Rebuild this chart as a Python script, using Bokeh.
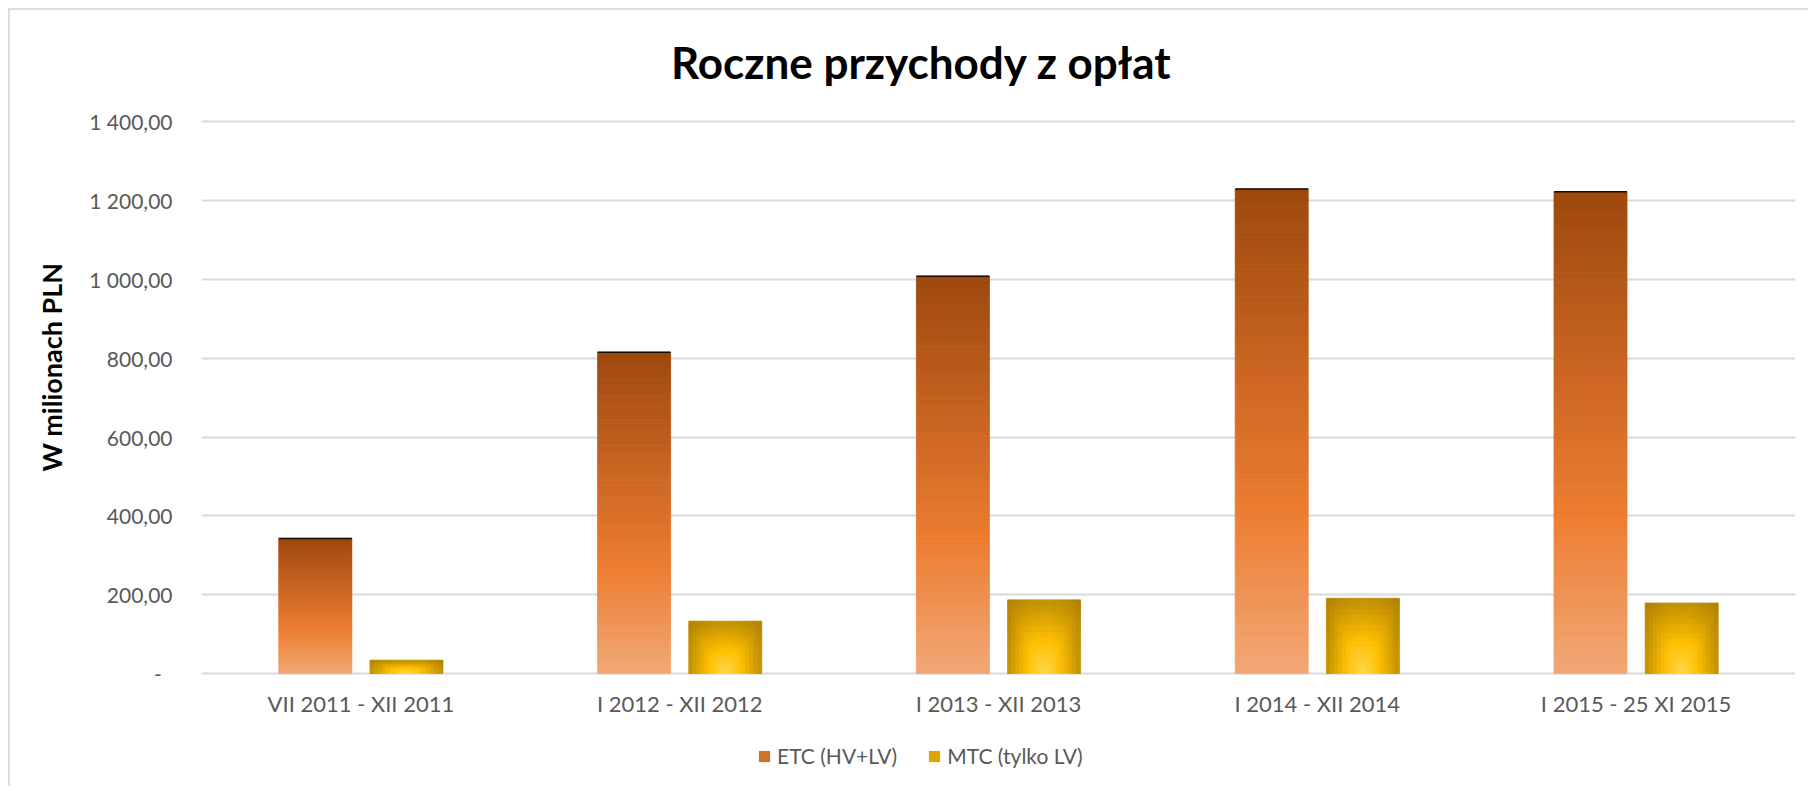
import math
from bokeh.plotting import figure
from bokeh.models import Range1d, FixedTicker, Legend, LegendItem, ColumnDataSource, Title
from bokeh.core.properties import value
from bokeh.embed import file_html
from bokeh.resources import INLINE

# ---------------- data ----------------
categories = ["VII 2011 - XII 2011", "I 2012 - XII 2012", "I 2013 - XII 2013",
              "I 2014 - XII 2014", "I 2015 - 25 XI 2015"]
etc_values = [343, 815, 1008, 1229, 1222]
mtc_values = [34, 133, 187, 191, 179]
series_names = ["ETC (HV+LV)", "MTC (tylko LV)"]
y_tick_values = [0, 200, 400, 600, 800, 1000, 1200, 1400]
y_tick_labels = ["-\u00a0\u00a0", "200,00", "400,00", "600,00", "800,00",
                 "1 000,00", "1 200,00", "1 400,00"]
title_text = "Roczne przychody z opłat"
y_axis_title = "W milionach PLN"

# ---------------- style / layout ----------------
FONT = "Lato"
GRID = "#D9D9D9"
TXT = "#595959"
BAR_W = 0.229
OFFSET = 0.143
Y_TOP = 1682.1      # room above the 1 400 gridline for the title
Y_BOTTOM = -291.5   # room below zero for category labels and legend
TITLE_X = 1.758     # title centre (chart-area centre) in category units

ETC_STOPS = [(0.0, (241, 168, 118)), (0.33, (237, 125, 49)), (1.0, (158, 72, 14))]
MTC_STOPS = [(0.0, (255, 216, 80)), (0.45, (255, 192, 0)), (0.9, (204, 152, 0)), (1.45, (150, 108, 0))]


def lerp_stops(stops, t):
    for (p0, c0), (p1, c1) in zip(stops[:-1], stops[1:]):
        if t <= p1:
            u = (t - p0) / (p1 - p0) if p1 > p0 else 0.0
            u = max(0.0, min(1.0, u))
            return "#%02x%02x%02x" % tuple(int(round(a + (b - a) * u)) for a, b in zip(c0, c1))
    c = stops[-1][1]
    return "#%02x%02x%02x" % c


# ETC bars: vertical gradient built from slices of each bar
etc = dict(left=[], right=[], bottom=[], top=[], color=[])
N = 90
for i, v in enumerate(etc_values):
    x0 = i - OFFSET - BAR_W / 2
    x1 = i - OFFSET + BAR_W / 2
    for k in range(N):
        etc["left"].append(x0)
        etc["right"].append(x1)
        etc["bottom"].append(v * k / N)
        etc["top"].append(v * (k + 1) / N)
        etc["color"].append(lerp_stops(ETC_STOPS, (k + 0.5) / N))

# MTC bars: path-like gradient (bright at bottom centre)
mtc = dict(left=[], right=[], bottom=[], top=[], color=[])
NX, NY = 18, 14
for i, v in enumerate(mtc_values):
    x0 = i + OFFSET - BAR_W / 2
    for c in range(NX):
        dx = abs((c + 0.5) / NX * 2 - 1)
        for r in range(NY):
            dy = (r + 0.5) / NY
            d = 0.5 * (math.hypot(dx, dy) + max(dx, dy))
            mtc["left"].append(x0 + BAR_W * c / NX)
            mtc["right"].append(x0 + BAR_W * (c + 1) / NX)
            mtc["bottom"].append(v * r / NY)
            mtc["top"].append(v * (r + 1) / NY)
            mtc["color"].append(lerp_stops(MTC_STOPS, d))

tops = dict(x0=[i - OFFSET - BAR_W / 2 for i in range(len(etc_values))],
            x1=[i - OFFSET + BAR_W / 2 for i in range(len(etc_values))],
            y=etc_values)

p = figure(width=1800, height=778, title=None,
           x_range=Range1d(-0.5, len(categories) - 0.5), y_range=Range1d(Y_BOTTOM, Y_TOP),
           output_backend="svg", toolbar_location=None,
           min_border_left=191, min_border_right=15, min_border_top=0, min_border_bottom=0)
p.styles = {"margin-left": "8px", "margin-top": "8px",
            "border-top": "2px solid #DCDCDC", "border-left": "2px solid #DCDCDC"}
p.outline_line_color = None
p.background_fill_color = "white"

p.xgrid.visible = False
p.ygrid.grid_line_color = GRID
p.ygrid.grid_line_width = 2

p.quad(left="left", right="right", bottom="bottom", top="top", source=ColumnDataSource(etc),
       fill_color="color", line_color="color", line_width=0.8)
p.quad(left="left", right="right", bottom="bottom", top="top", source=ColumnDataSource(mtc),
       fill_color="color", line_color="color", line_width=0.8)
p.segment(x0="x0", x1="x1", y0="y", y1="y", source=ColumnDataSource(tops),
          line_color="#1a0a00", line_width=1.5)

# category labels under the zero line
p.text(x=list(range(len(categories))), y=[0] * len(categories), text=categories,
       y_offset=30, text_align="center", text_baseline="middle",
       text_font=value(FONT), text_font_size="22px", text_color=TXT)

# chart title
p.text(x=[TITLE_X], y=[y_tick_values[-1]], text=[title_text],
       y_offset=-60, text_align="center", text_baseline="middle",
       text_font=value(FONT), text_font_size="44px", text_font_style="bold",
       text_color="black")

# legend proxies
nan = float("nan")
r_etc = p.quad(left=[nan], right=[nan], bottom=[nan], top=[nan], fill_color="#D4702B", line_color=None)
r_mtc = p.quad(left=[nan], right=[nan], bottom=[nan], top=[nan], fill_color="#DCA600", line_color=None)

# axes
p.xaxis.visible = False

p.yaxis.ticker = FixedTicker(ticks=y_tick_values)
p.yaxis.major_label_overrides = dict(zip(y_tick_values, y_tick_labels))
p.yaxis.major_label_text_font = FONT
p.yaxis.major_label_text_font_size = "21px"
p.yaxis.major_label_text_color = TXT
p.yaxis.major_label_standoff = 29
p.yaxis.major_tick_line_color = None
p.yaxis.minor_tick_line_color = None
p.yaxis.major_tick_out = 0
p.yaxis.axis_line_color = None

ytitle = Title(text=y_axis_title, align="left", offset=317, standoff=37,
               text_font=FONT, text_font_size="27px", text_font_style="bold",
               text_color="black")
p.add_layout(ytitle, "left")

legend = Legend(items=[LegendItem(label=series_names[0], renderers=[r_etc]),
                       LegendItem(label=series_names[1], renderers=[r_mtc])],
                orientation="horizontal", location=(556, 20),
                glyph_width=14, glyph_height=14, label_standoff=6, spacing=30,
                padding=0, margin=0, border_line_color=None, background_fill_alpha=0,
                label_text_font=FONT, label_text_font_size="21px", label_text_color=TXT)
p.add_layout(legend)

open("out.html", "w").write(file_html(p, INLINE))
